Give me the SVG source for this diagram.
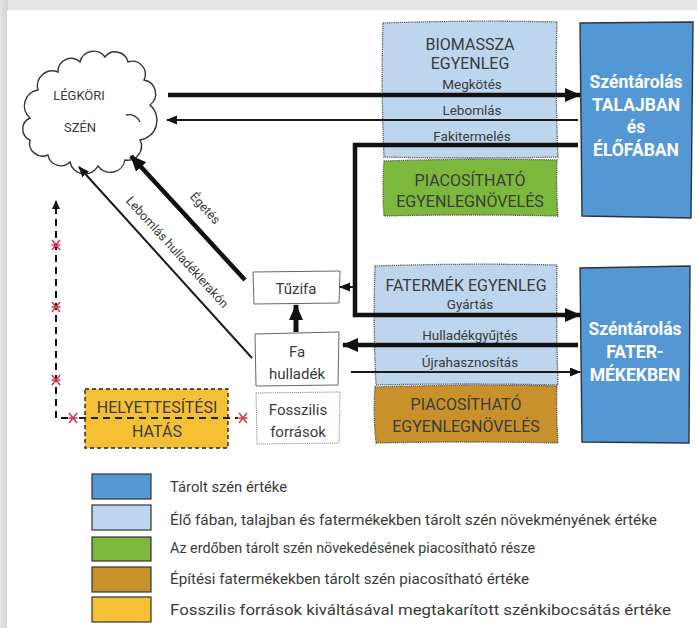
<svg xmlns="http://www.w3.org/2000/svg" width="697" height="628" viewBox="0 0 697 628">
  <defs>
    <style>
      .t { font-family: Roboto, "Liberation Sans", sans-serif; fill: #3a3a3a; }
      .cap { font-size: 16px; text-anchor: middle; }
      .lbl { font-size: 13.5px; text-anchor: middle; }
      .box { font-size: 15px; text-anchor: middle; }
      .store { font-family: Roboto, "Liberation Sans", sans-serif; font-weight: bold; font-size: 17.5px; fill: #ffffff; text-anchor: middle; }
      .leg { font-size: 14px; }
      .dot { stroke: #555; stroke-width: 1.3; stroke-dasharray: 1.2 0.9; }
      .solid { stroke: #2b3440; stroke-width: 1.4; }
      .thin { fill: none; stroke: #1a1a1a; stroke-width: 2; }
      .thick { fill: none; stroke: #111; stroke-width: 4.5; }
      .red { stroke: #d23a55; stroke-width: 1.6; fill: none; }
    </style>
    <linearGradient id="frameL" x1="0" y1="0" x2="1" y2="0">
      <stop offset="0" stop-color="#e4e4e4"/>
      <stop offset="1" stop-color="#d2d2d2"/>
    </linearGradient>
    <marker id="headBig" markerUnits="userSpaceOnUse" markerWidth="18" markerHeight="16" refX="15" refY="7" orient="auto">
      <path d="M0,0 L16,7 L0,14 Z" fill="#111"/>
    </marker>
    <marker id="headSmall" markerUnits="userSpaceOnUse" markerWidth="12" markerHeight="10" refX="10" refY="4.5" orient="auto">
      <path d="M0,0 L11,4.5 L0,9 Z" fill="#111"/>
    </marker>
    <marker id="headDash" markerUnits="userSpaceOnUse" markerWidth="10" markerHeight="10" refX="8" refY="4" orient="auto">
      <path d="M0,0 L9,4 L0,8 Z" fill="#111"/>
    </marker>
    <g id="cross">
      <path d="M-4,-5 L4,5 M4,-5 L-4,5 M-4.5,0 L4.5,0" class="red"/>
    </g>
  </defs>

  <!-- page frame -->
  <rect x="0" y="0" width="697" height="628" fill="#e6e6e6"/>
  <rect x="0" y="0" width="8" height="628" fill="url(#frameL)"/>
  <rect x="7" y="10" width="690" height="618" fill="#ffffff"/>

  <!-- atmosphere cloud -->
  <g id="legkori-szen">
    <path d="M30,118 A16,16 0 0 1 38,90 A15,15 0 0 1 58,72 A13,13 0 0 1 80,62 A14,14 0 0 1 105,57 A13,13 0 0 1 128,62 A13,13 0 0 1 144,80 A14,14 0 0 1 150,105 A20,20 0 0 1 140,140 A14,14 0 0 1 125,160 A15,15 0 0 1 98,166 A15,15 0 0 1 70,162 A13,13 0 0 1 48,155 A13,13 0 0 1 30,140 A12,12 0 0 1 30,118 Z" fill="#fff" stroke="#333" stroke-width="1.4"/>
    <path d="M126,115 A12,12 0 0 1 140,122" fill="none" stroke="#333" stroke-width="1.4"/>
    <text class="t" x="79" y="100" text-anchor="middle" font-size="13">LÉGKÖRI</text>
    <text class="t" x="80" y="132" text-anchor="middle" font-size="13">SZÉN</text>
  </g>

  <!-- biomass balance -->
  <g id="biomassza-egyenleg">
    <path d="M383,23 Q470,20 557,22 Q555,90 558,157 Q470,159 384,157 Q381,90 383,23 Z" fill="#bdd6ee" class="dot"/>
    <text class="t cap" x="470" y="50" font-size="17">BIOMASSZA</text>
    <text class="t cap" x="470" y="69" font-size="17">EGYENLEG</text>
    <text class="t lbl" x="472" y="89">Megkötés</text>
    <text class="t lbl" x="472" y="115">Lebomlás</text>
    <text class="t lbl" x="472" y="141">Fakitermelés</text>
  </g>
  <g id="piacosithato-biomassza">
    <path d="M384,161 Q470,158 557,160 Q556,190 558,216 Q470,214 384,216 Q382,190 384,161 Z" fill="#7bb83c" class="dot"/>
    <text class="t cap" x="470" y="186">PIACOSÍTHATÓ</text>
    <text class="t cap" x="470" y="207">EGYENLEGNÖVELÉS</text>
  </g>

  <!-- wood product balance -->
  <g id="fatermek-egyenleg">
    <path d="M375,266 Q466,263 557,265 Q556,325 558,385 Q466,383 376,385 Q373,325 375,266 Z" fill="#bdd6ee" class="dot"/>
    <text class="t cap" x="466" y="291" font-size="17">FATERMÉK EGYENLEG</text>
    <text class="t lbl" x="470" y="309">Gyártás</text>
    <text class="t lbl" x="470" y="340">Hulladékgyűjtés</text>
    <text class="t lbl" x="470" y="367">Újrahasznosítás</text>
  </g>
  <g id="piacosithato-fatermek">
    <path d="M375,387 Q466,384 557,386 Q556,415 558,443 Q466,441 376,443 Q373,415 375,387 Z" fill="#c8912b" class="dot"/>
    <text class="t cap" x="466" y="410">PIACOSÍTHATÓ</text>
    <text class="t cap" x="466" y="432">EGYENLEGNÖVELÉS</text>
  </g>

  <!-- carbon stores -->
  <g id="szentarolas-talaj">
    <path d="M580,23 L693,22 L691,218 L582,216 Z" fill="#5497d5" class="solid"/>
    <text class="store" x="636" y="88">Széntárolás</text>
    <text class="store" x="636" y="111">TALAJBAN</text>
    <text class="store" x="636" y="133">és</text>
    <text class="store" x="636" y="156">ÉLŐFÁBAN</text>
  </g>
  <g id="szentarolas-fatermek">
    <path d="M580,268 L690,266 L689,443 L582,442 Z" fill="#5497d5" class="solid"/>
    <text class="store" x="635" y="335">Széntárolás</text>
    <text class="store" x="635" y="358">FATER-</text>
    <text class="store" x="635" y="381">MÉKEKBEN</text>
  </g>

  <!-- wood flows -->
  <g id="tuzifa">
    <path d="M253,272 L340,271 L339,303 L254,304 Z" fill="#fff" stroke="#666" stroke-width="1"/>
    <text class="t box" x="296" y="294">Tűzifa</text>
  </g>
  <g id="fa-hulladek">
    <path d="M255,334 L339,332 L338,385 L256,386 Z" fill="#fff" stroke="#666" stroke-width="1"/>
    <text class="t box" x="297" y="357">Fa</text>
    <text class="t box" x="297" y="379">hulladék</text>
  </g>
  <g id="fosszilis-forrasok">
    <path d="M256,393 L340,392 L339,443 L257,444 Z" fill="#fff" stroke="#888" stroke-width="1" stroke-dasharray="1.2 0.9"/>
    <text class="t box" x="298" y="415">Fosszilis</text>
    <text class="t box" x="298" y="437">források</text>
  </g>
  <g id="helyettesitesi-hatas">
    <rect x="85" y="389" width="143" height="59" fill="#f6c035" stroke="#222" stroke-width="1.4" stroke-dasharray="4 3"/>
    <text class="t cap" x="157" y="413">HELYETTESÍTÉSI</text>
    <text class="t cap" x="157" y="437">HATÁS</text>
  </g>

  <!-- connectors -->
  <g id="connectors">
    <!-- Megkötés -->
    <line x1="168" y1="95" x2="580" y2="95" class="thick" marker-end="url(#headBig)"/>
    <!-- Lebomlás -->
    <line x1="578" y1="120" x2="167" y2="120" class="thin" marker-end="url(#headSmall)"/>
    <!-- Fakitermelés -> Gyártás -->
    <polyline points="578,145 355,145 355,315 580,315" class="thick" stroke-linejoin="miter" marker-end="url(#headBig)"/>
    <!-- branch to Tűzifa -->
    <line x1="355" y1="287" x2="340" y2="287" class="thin" marker-end="url(#headSmall)"/>
    <!-- Hulladékgyűjtés -->
    <line x1="578" y1="345" x2="343" y2="345" class="thick" marker-end="url(#headBig)"/>
    <!-- Újrahasznosítás -->
    <line x1="351" y1="372" x2="580" y2="372" class="thin" marker-end="url(#headSmall)"/>
    <!-- Fa hulladék -> Tűzifa -->
    <line x1="296" y1="332" x2="296" y2="305" stroke="#111" stroke-width="5" marker-end="url(#headBig)"/>
    <!-- Égetés -->
    <line x1="245" y1="280" x2="131" y2="156" class="thick" marker-end="url(#headBig)"/>
    <!-- Lebomlás hulladéklerakón -->
    <line x1="252" y1="358" x2="79" y2="167" class="thin" marker-end="url(#headSmall)"/>
    <!-- substitution path (dashed) -->
    <polyline points="68,418 56,418 56,201" fill="none" stroke="#111" stroke-width="2" stroke-dasharray="7 5" marker-end="url(#headDash)"/>
    <line x1="79" y1="418" x2="238" y2="418" stroke="#222" stroke-width="2" stroke-dasharray="7 5"/>
    <use href="#cross" x="56" y="245"/>
    <use href="#cross" x="56" y="307"/>
    <use href="#cross" x="56" y="380"/>
    <use href="#cross" x="73" y="418"/>
    <use href="#cross" x="243" y="418"/>
  </g>

  <!-- flow labels along diagonals -->
  <g id="diagonal-labels">
    <text class="t" font-size="12.5" text-anchor="middle" transform="translate(202,211) rotate(47.4)">Égetés</text>
    <text class="t" font-size="12.5" text-anchor="middle" transform="translate(174,255) rotate(47.8)">Lebomlás hulladéklerakón</text>
  </g>

  <!-- legend -->
  <g id="legend">
    <rect x="92" y="474" width="59" height="25" fill="#5497d5" stroke="#333" stroke-width="1.2"/>
    <rect x="92" y="505" width="59" height="25" fill="#bdd6ee" stroke="#333" stroke-width="1.2"/>
    <rect x="92" y="537" width="59" height="24" fill="#7bb83c" stroke="#333" stroke-width="1.2"/>
    <rect x="92" y="567" width="59" height="25" fill="#c8912b" stroke="#333" stroke-width="1.2"/>
    <rect x="92" y="597" width="59" height="25" fill="#f6c035" stroke="#333" stroke-width="1.2"/>
    <text class="t leg" x="170" y="492" textLength="117" lengthAdjust="spacingAndGlyphs">Tárolt szén értéke</text>
    <text class="t leg" x="170" y="525" textLength="487" lengthAdjust="spacingAndGlyphs">Élő fában, talajban és fatermékekben tárolt szén növekményének értéke</text>
    <text class="t leg" x="170" y="553" textLength="365" lengthAdjust="spacingAndGlyphs">Az erdőben tárolt szén növekedésének piacosítható része</text>
    <text class="t leg" x="170" y="584" textLength="359" lengthAdjust="spacingAndGlyphs">Építési fatermékekben tárolt szén piacosítható értéke</text>
    <text class="t leg" x="170" y="615" textLength="501" lengthAdjust="spacingAndGlyphs">Fosszilis források kiváltásával megtakarított szénkibocsátás értéke</text>
  </g>
</svg>
